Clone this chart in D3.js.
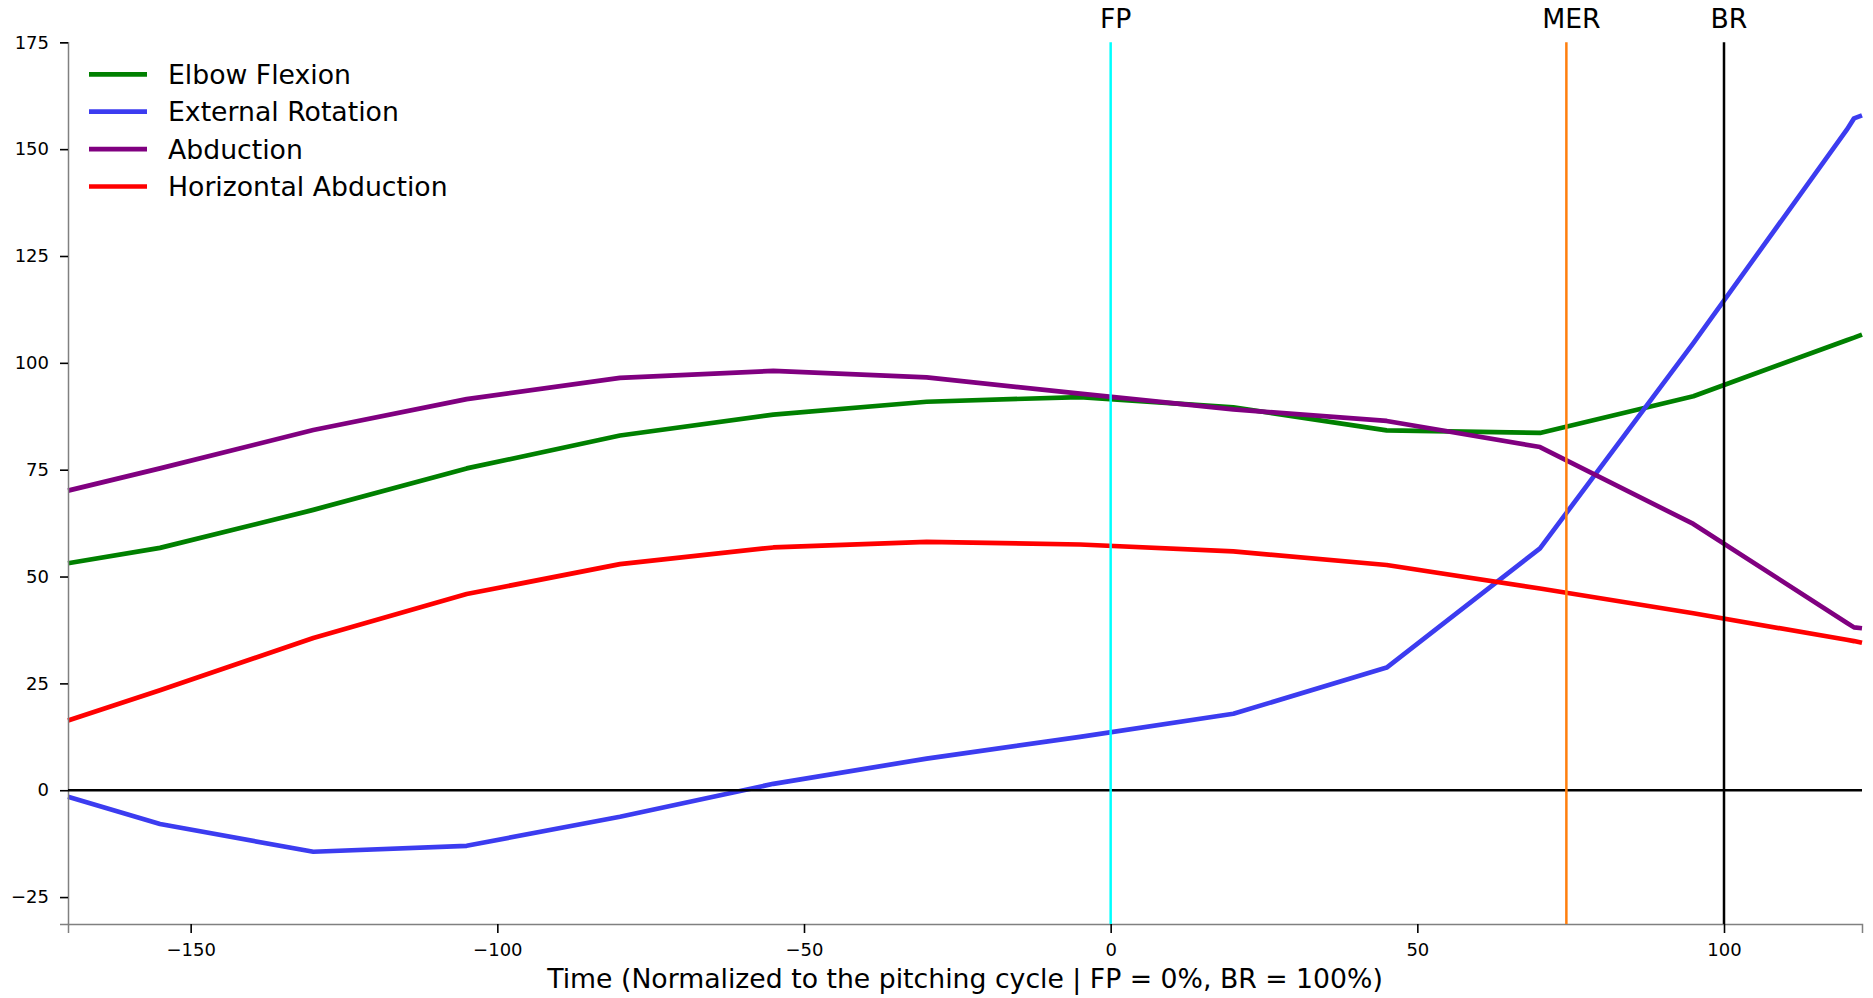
<!DOCTYPE html>
<html>
<head>
<meta charset="utf-8">
<script src="https://cdn.jsdelivr.net/npm/d3@7"></script>
<style>
    body { margin: 0; background: white; }
    svg { display: block; font-family: 'DejaVu Sans', sans-serif; }
</style>
</head>
<body>
<script>

// time in % of the pitching cycle (FP = 0, BR = 100)
const timePoints = [-170, -155, -130, -105, -80, -55, -30, -5, 20, 45, 70, 95, 120, 121.2, 122.5]

const elbowFlexion = [53.1, 56.7, 65.6, 75.3, 83.0, 87.9, 90.9, 92.0, 89.6, 84.2, 83.6, 92.2, 105.3, 105.9, 106.6]
const externalRotation = [-1.5, -7.9, -14.4, -13.0, -6.2, 1.5, 7.4, 12.5, 17.9, 28.7, 56.6, 104.6, 154.5, 157.2, 157.9]
const abduction = [70.1, 75.3, 84.3, 91.5, 96.5, 98.1, 96.6, 92.8, 89.1, 86.4, 80.3, 62.3, 39.2, 38.1, 37.9]
const horizontalAbduction = [16.3, 23.4, 35.6, 45.9, 52.9, 56.8, 58.1, 57.5, 55.9, 52.7, 47.2, 41.4, 35.2, 34.9, 34.5]

const seriesNames = ['Elbow Flexion', 'External Rotation', 'Abduction', 'Horizontal Abduction']
const seriesColors = ['#008000', '#3c3cf0', '#800080', '#ff0000']

const eventNames = ['FP', 'MER', 'BR']
const eventTimes = [0, 74.3, 100]
const eventColors = ['#00ffff', '#ff7f0e', '#000000']

const xTicks = [-150, -100, -50, 0, 50, 100]
const yTicks = [-25, 0, 25, 50, 75, 100, 125, 150, 175]

const xLabel = 'Time (Normalized to the pitching cycle | FP = 0%, BR = 100%)'


class kinematicsChart {

    constructor(width, height){
        this.width = width
        this.height = height
        this.box = {left: 68, right: 1862, top: 42.3, bottom: 924}

        this.svg = d3.select('body').append('svg')
            .attr('width', width)
            .attr('height', height)

        this.x = d3.scaleLinear()
            .domain([-170, 122.5])
            .range([this.box.left, this.box.right])

        this.y = d3.scaleLinear()
            .domain([-31.3, 175])
            .range([this.box.bottom, this.box.top])
    }

    drawAxes(){
        const xAxis = d3.axisBottom(this.x)
            .tickValues(xTicks)
            .tickSizeOuter(0)
            .tickSize(9)
            .tickPadding(10)

        const yAxis = d3.axisLeft(this.y)
            .tickValues(yTicks)
            .tickSizeOuter(0)
            .tickSize(8)
            .tickPadding(11)

        const gx = this.svg.append('g')
            .attr('transform', 'translate(0,' + this.box.bottom + ')')
            .call(xAxis)

        const gy = this.svg.append('g')
            .attr('transform', 'translate(' + this.box.left + ',0)')
            .call(yAxis)

        for (const g of [gx, gy]) {
            g.select('.domain').attr('stroke', '#808080').attr('stroke-width', 1.5)
            g.selectAll('.tick line').attr('stroke', '#000').attr('stroke-width', 1.6)
            g.selectAll('.tick text')
                .attr('fill', '#000')
                .style('font-family', 'DejaVu Sans')
                .style('font-size', '18px')
        }

        this.svg.append('text')
            .attr('x', (this.box.left + this.box.right) / 2)
            .attr('y', 988)
            .attr('text-anchor', 'middle')
            .style('font-size', '26.7px')
            .text(xLabel)
    }

    drawSeries(){
        const allSeries = [elbowFlexion, externalRotation, abduction, horizontalAbduction]

        const line = d3.line()
            .x((d, i) => this.x(timePoints[i]))
            .y(d => this.y(d))

        this.svg.append('g').selectAll('path')
            .data(allSeries)
            .join('path')
            .attr('d', d => line(d))
            .attr('fill', 'none')
            .attr('stroke', (d, i) => seriesColors[i])
            .attr('stroke-width', 4.7)
            .attr('stroke-linejoin', 'round')
    }

    drawReferenceLines(){
        // zero line
        this.svg.append('line')
            .attr('x1', this.box.left)
            .attr('x2', this.box.right)
            .attr('y1', this.y(0))
            .attr('y2', this.y(0))
            .attr('stroke', '#000')
            .attr('stroke-width', 2.5)

        const events = this.svg.append('g').selectAll('g')
            .data(eventNames)
            .join('g')

        events.append('line')
            .attr('x1', (d, i) => this.x(eventTimes[i]))
            .attr('x2', (d, i) => this.x(eventTimes[i]))
            .attr('y1', this.box.top)
            .attr('y2', this.box.bottom)
            .attr('stroke', (d, i) => eventColors[i])
            .attr('stroke-width', 2.5)

        events.append('text')
            .attr('x', (d, i) => this.x(eventTimes[i]) + 5)
            .attr('y', 28)
            .attr('text-anchor', 'middle')
            .style('font-size', '26.7px')
            .text(d => d)
    }

    drawLegend(){
        const rows = this.svg.append('g').selectAll('g')
            .data(seriesNames)
            .join('g')
            .attr('transform', (d, i) => 'translate(89,' + (74.3 + i * 37.4) + ')')

        rows.append('line')
            .attr('x1', 0)
            .attr('x2', 58)
            .attr('stroke', (d, i) => seriesColors[i])
            .attr('stroke-width', 4.7)

        rows.append('text')
            .attr('x', 79)
            .attr('y', 9.5)
            .style('font-size', '26.7px')
            .text(d => d)
    }
}

const chart = new kinematicsChart(1873, 998)
chart.drawSeries()
chart.drawAxes()
chart.drawReferenceLines()
chart.drawLegend()

</script>
</body>
</html>
